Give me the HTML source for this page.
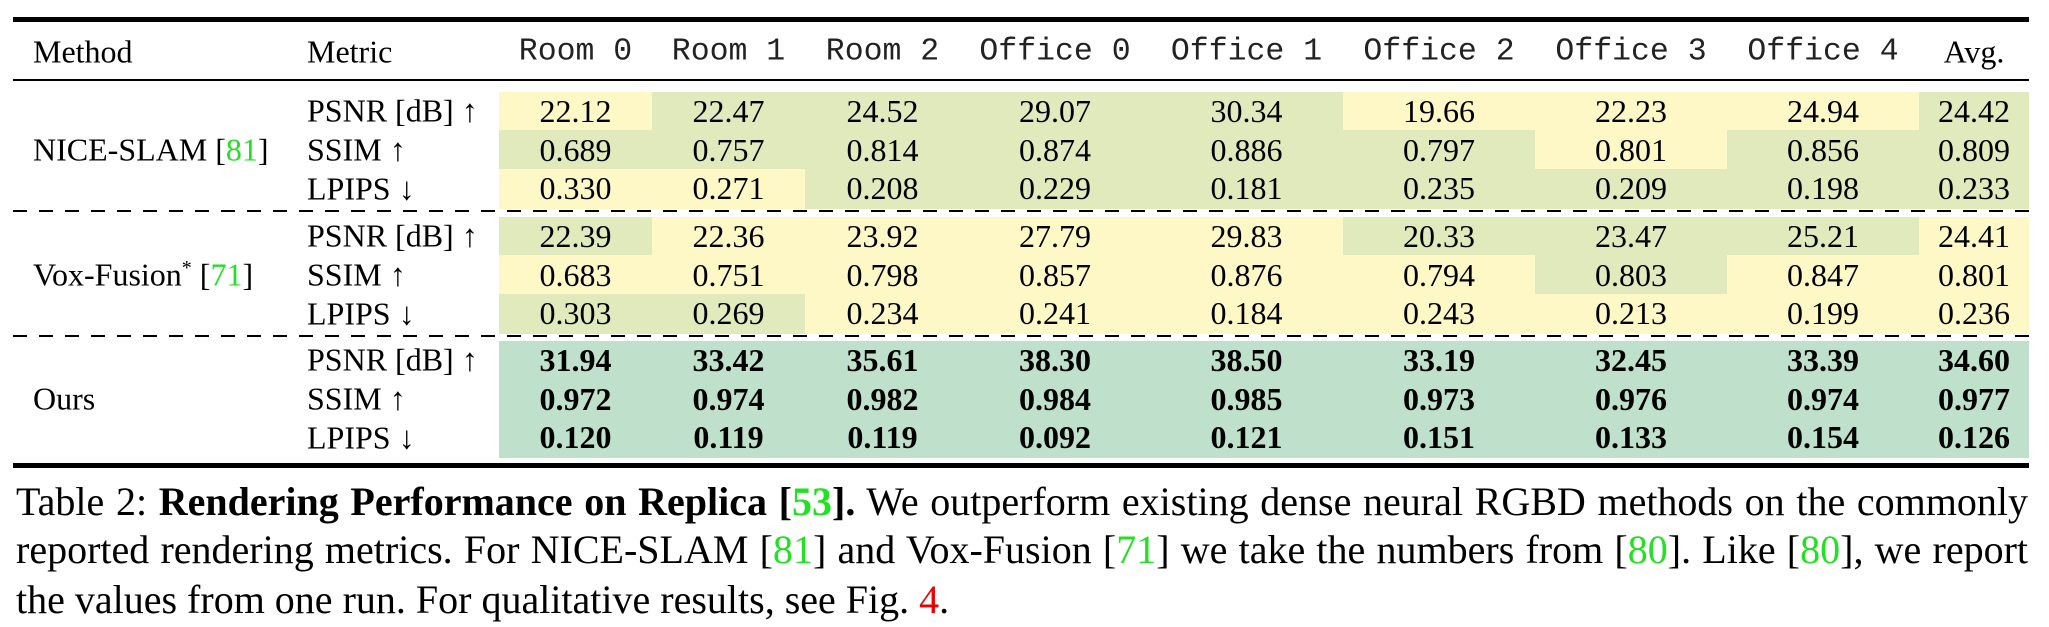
<!DOCTYPE html>
<html><head><meta charset="utf-8">
<style>
html,body{margin:0;padding:0;background:#fff;}
#root{position:relative;width:2049px;height:627px;overflow:hidden;font-family:"Liberation Serif",serif;color:#000;}
.abs{position:absolute;}
.cell{position:absolute;display:flex;align-items:center;justify-content:center;font-size:32px;white-space:nowrap;}
.hdr{position:absolute;font-family:"Liberation Mono",monospace;font-size:31.5px;transform:translate(-50%,-50%);white-space:pre;color:#222;}
.serif{font-family:"Liberation Serif",serif;color:#000;}
.lbl{position:absolute;font-size:32px;white-space:nowrap;transform:translateY(-50%);}
.ref{color:#22e022;}
.cap{position:absolute;left:16px;width:2012px;font-size:40px;line-height:48px;white-space:nowrap;}
.just{text-align:justify;text-align-last:justify;white-space:normal;}
.dash{position:absolute;left:13px;width:2016px;height:2px;background:repeating-linear-gradient(90deg,#000 0 14px,transparent 14px 26px);}
</style></head>
<body>
<div id="root">
  <div class="abs" style="left:13px;top:17px;width:2016px;height:5px;background:#000"></div>
  <div class="abs" style="left:13px;top:79px;width:2016px;height:2px;background:#000"></div>
  <div class="abs" style="left:13px;top:463px;width:2016px;height:5px;background:#000"></div>
  <div class="dash" style="top:210px"></div>
  <div class="dash" style="top:335px"></div>

  <div class="lbl" style="left:33px;top:52px">Method</div>
  <div class="lbl" style="left:307px;top:52px">Metric</div>

  <div class="lbl" style="left:33px;top:150px">NICE-SLAM [<span class="ref">81</span>]</div>
  <div class="lbl" style="left:33px;top:275px">Vox-Fusion<sup style="font-size:20px">*</sup> [<span class="ref">71</span>]</div>
  <div class="lbl" style="left:33px;top:399px">Ours</div>

  <div id="tbl"></div>

  <div class="cap just" style="top:478px">Table 2: <b>Rendering Performance on Replica [<span class="ref">53</span>].</b> We outperform existing dense neural RGBD methods on the commonly</div>
  <div class="cap just" style="top:526px">reported rendering metrics. For NICE-SLAM [<span class="ref">81</span>] and Vox-Fusion [<span class="ref">71</span>] we take the numbers from [<span class="ref">80</span>]. Like [<span class="ref">80</span>], we report</div>
  <div class="cap" style="top:576px">the values from one run. For qualitative results, see Fig. <span style="color:#e00">4</span>.</div>
</div>
<script>
const scenes = ["Room 0","Room 1","Room 2","Office 0","Office 1","Office 2","Office 3","Office 4","Avg."];
const metrics = ["PSNR [dB] ↑","SSIM ↑","LPIPS ↓"];
const higherBetter = [true,true,false];
const nicePsnr = ["22.12","22.47","24.52","29.07","30.34","19.66","22.23","24.94","24.42"];
const niceSsim = ["0.689","0.757","0.814","0.874","0.886","0.797","0.801","0.856","0.809"];
const niceLpips = ["0.330","0.271","0.208","0.229","0.181","0.235","0.209","0.198","0.233"];
const voxPsnr = ["22.39","22.36","23.92","27.79","29.83","20.33","23.47","25.21","24.41"];
const voxSsim = ["0.683","0.751","0.798","0.857","0.876","0.794","0.803","0.847","0.801"];
const voxLpips = ["0.303","0.269","0.234","0.241","0.184","0.243","0.213","0.199","0.236"];
const oursPsnr = ["31.94","33.42","35.61","38.30","38.50","33.19","32.45","33.39","34.60"];
const oursSsim = ["0.972","0.974","0.982","0.984","0.985","0.973","0.976","0.974","0.977"];
const oursLpips = ["0.120","0.119","0.119","0.092","0.121","0.151","0.133","0.154","0.126"];

const bounds = [499,652,805,960,1150,1343,1535,1727,1919,2029];
const groupTops = [92,217,341];
const rowH = 38.7;
const YEL="#fef8c6", GRN="#e0eabd", OURS="#bfe0ca";
const root = document.getElementById('tbl');

scenes.forEach((s,i)=>{
  const h=document.createElement('div');
  h.className = i===scenes.length-1 ? 'hdr serif' : 'hdr';
  if(i===scenes.length-1) h.style.fontSize='32px';
  h.style.left=((bounds[i]+bounds[i+1])/2)+'px';
  h.style.top='52px';
  h.textContent=s;
  
  
  root.appendChild(h);
});

const groups = [
  [nicePsnr,niceSsim,niceLpips],
  [voxPsnr,voxSsim,voxLpips],
  [oursPsnr,oursSsim,oursLpips]
];
groups.forEach((g,gi)=>{
  g.forEach((row,ri)=>{
    const y = groupTops[gi]+ri*rowH;
    const m=document.createElement('div');
    m.className='lbl';
    m.style.left='307px';
    m.style.top=(y+rowH/2)+'px';
    m.textContent=metrics[ri];
    
    
    root.appendChild(m);
    row.forEach((v,ci)=>{
      let bg;
      if(gi===2) bg=OURS;
      else {
        const a=parseFloat(groups[0][ri][ci]), b=parseFloat(groups[1][ri][ci]);
        const other = gi===0 ? b : a, mine = gi===0 ? a : b;
        const better = higherBetter[ri] ? mine>=other : mine<=other;
        bg = better ? GRN : YEL;
      }
      const c=document.createElement('div');
      c.className='cell';
      c.style.left=bounds[ci]+'px';
      c.style.width=(bounds[ci+1]-bounds[ci])+'px';
      c.style.top=(y-0.5)+'px';
      c.style.height=(rowH+1)+'px';
      c.style.background=bg;
      if(gi===2) c.style.fontWeight='bold';
      c.textContent=v;
      
      
      root.appendChild(c);
    });
  });
});
</script>
</body></html>
